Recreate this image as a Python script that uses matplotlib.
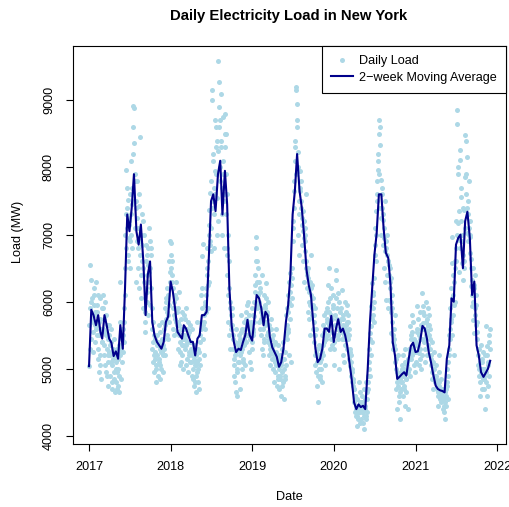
import numpy as np
import pandas as pd
import matplotlib
matplotlib.use('Agg')
import matplotlib.pyplot as plt

plt.rcParams['font.family'] = ['Liberation Sans', 'DejaVu Sans']

# daily load (MW), 21 readings per month
load_2017 = [
    [5040, 5650, 5300, 6550, 5900, 6000, 6320, 5450, 5750, 5800, 6050, 5250, 5550, 5700, 5950, 6200, 6100, 5400, 5650, 5850, 5600],
    [5800, 6300, 5650, 5500, 5950, 5850, 6100, 5300, 5150, 5700, 4950, 5500, 5750, 6050, 5200, 5050, 4850, 5600, 5550, 5400, 5900],
    [5400, 6100, 5600, 5900, 5200, 5350, 5750, 6000, 5050, 5550, 4950, 5800, 5500, 5300, 5650, 4900, 5100, 4750, 5200, 5450, 5250],
    [5500, 5650, 5350, 5200, 4900, 5100, 5400, 5600, 4800, 5050, 4700, 5300, 5250, 5150, 4850, 4950, 5450, 4650, 5200, 5250, 5000],
    [5100, 4800, 4950, 5300, 4700, 5150, 5250, 5000, 4750, 4650, 5350, 4900, 5200, 5700, 6300, 5300, 5550, 4850, 5100, 5600, 5450],
    [5250, 5600, 5500, 5400, 5900, 5700, 6500, 6100, 7000, 7300, 6800, 7960, 7400, 7700, 7100, 6700, 7520, 6600, 7150, 6950, 7250],
    [7200, 6500, 6900, 7600, 7000, 7300, 8100, 7450, 7700, 6800, 8600, 8920, 8200, 8880, 8360, 7500, 7800, 7900, 7100, 6300, 7400],
    [7500, 6900, 7250, 7800, 6500, 6800, 7100, 6200, 7600, 7420, 8450, 6700, 6900, 7000, 6050, 6400, 7300, 6600, 6850, 7200, 5900],
    [6500, 7000, 6300, 5900, 5700, 5850, 5550, 6200, 6600, 6850, 6400, 6150, 6000, 6700, 5800, 6800, 6550, 7100, 6450, 6300, 5950],
    [6900, 6500, 6700, 6800, 6200, 5900, 5600, 5300, 5400, 5700, 5100, 5500, 5200, 4950, 5250, 5150, 5450, 5000, 5050, 4800, 5350],
    [5200, 5500, 5350, 4900, 5400, 5150, 5650, 5100, 5050, 5300, 4850, 5550, 5400, 5250, 5000, 5250, 5700, 5450, 5200, 4950, 5350],
    [5300, 5600, 5450, 5900, 5200, 5650, 6000, 5750, 6050, 6200, 5500, 5850, 5800, 6100, 5450, 5700, 5950, 6600, 6300, 6900, 6450],
]
load_2018 = [
    [6880, 6700, 6500, 6600, 6400, 6300, 6200, 5600, 5900, 6000, 5800, 5500, 5750, 6100, 5900, 6050, 5700, 6300, 5550, 5650, 5850],
    [5700, 5900, 5550, 5300, 6150, 5650, 5500, 5050, 5250, 5400, 5750, 5100, 5500, 5600, 5200, 5350, 5850, 5450, 5450, 5000, 5350],
    [5800, 5500, 5600, 5750, 5300, 5450, 5900, 5050, 5350, 5600, 5400, 5150, 5500, 5700, 4950, 5200, 5550, 5250, 5400, 5650, 5100],
    [5400, 5100, 5300, 5600, 4900, 5200, 5250, 5000, 4850, 4750, 5150, 5350, 5100, 4800, 5050, 4900, 4650, 5200, 5050, 5700, 4950],
    [5100, 4800, 5000, 5300, 4700, 5150, 5250, 5500, 5400, 5050, 6100, 5700, 5600, 5900, 6680, 6200, 6860, 5450, 5650, 5200, 5800],
    [5700, 5600, 5950, 6000, 6200, 6100, 5850, 6400, 6500, 6800, 5900, 6600, 6250, 7150, 6300, 7000, 7370, 6900, 6850, 7620, 6750],
    [7800, 7100, 7400, 9150, 9000, 8100, 8200, 7500, 7700, 6800, 7300, 7600, 7950, 8700, 8600, 8300, 7900, 7000, 7550, 8400, 7200],
    [8250, 9590, 8600, 9270, 8900, 8000, 7800, 8700, 8300, 9100, 8400, 7300, 7700, 7000, 8750, 7900, 8100, 7500, 7600, 6800, 8500],
    [8800, 8300, 8500, 7900, 7300, 7600, 6800, 6400, 6700, 7000, 6100, 5700, 6200, 6600, 5500, 5900, 5300, 6000, 5650, 5800, 5600],
    [5900, 5800, 5650, 5300, 5500, 5450, 5050, 4900, 5150, 5400, 4800, 5200, 5250, 4650, 5600, 4950, 5000, 4600, 5300, 5350, 5100],
    [5500, 5100, 5400, 5300, 4700, 5200, 5450, 5250, 5550, 5800, 5000, 5600, 5300, 5150, 4900, 5100, 5350, 5700, 5450, 5050, 5500],
    [5600, 5850, 5750, 5400, 5950, 5650, 5500, 6000, 5500, 5700, 5250, 5800, 5600, 5100, 5550, 5450, 5000, 5650, 5700, 5300, 5900],
]
load_2019 = [
    [5400, 5550, 5500, 5800, 5600, 5700, 6000, 5780, 6150, 6250, 6400, 6970, 6600, 6800, 6600, 6300, 5900, 6100, 5950, 6500, 5700],
    [6300, 6000, 6150, 5600, 6200, 5750, 5900, 5500, 5850, 5800, 5300, 6400, 5600, 5700, 5200, 5400, 6100, 5450, 5800, 5650, 5950],
    [5900, 6280, 6050, 5700, 5500, 5850, 5800, 5400, 5550, 6000, 5200, 5650, 5450, 5300, 5050, 5350, 5600, 5750, 5250, 5150, 5450],
    [5300, 5500, 5350, 5000, 5200, 5150, 4800, 5400, 5250, 5100, 4950, 5600, 5050, 5250, 4750, 5200, 5050, 5350, 4850, 4900, 5150],
    [5000, 4700, 4900, 5200, 4850, 5050, 5100, 4600, 4750, 5300, 4950, 5400, 5150, 4800, 4550, 5000, 5150, 5250, 4850, 4900, 5050],
    [5500, 5800, 5650, 5450, 5900, 5550, 6100, 5600, 5850, 6300, 5200, 6000, 6150, 6430, 5750, 5950, 6250, 5100, 6350, 6500, 6050],
    [6900, 7200, 7100, 7650, 7400, 7800, 8100, 8400, 8300, 7900, 9200, 9150, 8600, 8950, 8700, 8000, 8230, 7000, 7300, 7500, 6700],
    [7950, 7650, 7700, 7400, 7800, 7500, 7150, 6850, 7250, 7350, 7050, 6600, 6950, 7200, 6300, 6750, 6900, 7000, 7100, 6500, 7600],
    [6600, 6400, 6450, 6200, 5850, 6350, 6500, 6000, 6150, 5750, 6300, 5500, 5950, 6100, 6700, 6200, 5900, 6250, 5800, 5600, 6050],
    [5950, 5700, 5800, 5400, 5900, 5500, 5200, 5050, 5250, 5600, 4950, 5300, 5100, 4750, 5150, 4900, 4500, 5000, 5200, 5350, 4850],
    [5100, 4900, 5150, 5300, 5000, 5250, 5500, 4800, 5350, 5200, 5650, 5400, 5550, 5800, 5050, 5500, 5600, 5850, 5600, 5450, 5700],
    [5600, 5900, 5750, 6250, 5500, 6000, 5850, 6500, 5650, 5300, 5700, 6050, 5800, 5450, 6200, 5550, 5750, 5350, 5900, 5950, 6100],
]
load_2020 = [
    [5300, 5050, 5400, 5500, 5800, 5650, 6330, 6480, 6050, 5600, 5900, 5750, 5440, 6130, 5500, 5700, 5000, 6000, 5600, 5840, 5550],
    [5600, 5900, 5750, 6180, 5440, 5550, 5740, 5200, 5650, 5800, 5500, 5100, 5450, 6000, 5350, 5600, 5650, 5840, 5500, 5300, 5700],
    [5950, 5540, 5800, 5700, 5440, 5500, 5140, 5600, 5250, 5300, 5040, 4900, 5100, 5200, 4800, 4950, 5000, 4750, 4800, 4850, 4700],
    [4700, 4500, 4600, 4350, 4600, 4400, 4300, 4450, 4300, 4150, 4550, 4400, 4450, 4250, 4800, 4350, 4350, 4500, 4500, 4200, 4650],
    [4500, 4250, 4400, 4600, 4350, 4500, 4200, 4450, 4350, 4700, 4300, 4100, 4450, 4550, 4400, 4300, 4800, 4250, 4550, 4650, 4350],
    [4800, 4700, 4900, 5000, 5300, 5100, 4900, 5540, 5450, 5200, 5640, 5940, 5750, 5400, 6280, 6150, 5800, 6100, 5900, 5700, 6000],
    [6350, 6850, 6700, 7100, 7350, 7000, 6600, 7600, 7500, 7800, 8200, 7960, 8100, 8500, 8700, 7900, 8600, 8340, 7400, 7250, 7000],
    [7810, 7600, 7700, 7400, 7220, 7300, 6850, 7100, 6950, 6500, 7500, 6300, 6750, 6900, 6030, 6800, 7000, 6700, 6400, 5900, 6600],
    [6600, 6400, 6550, 6030, 6500, 6300, 6200, 5840, 6000, 6350, 5540, 5700, 5900, 6100, 5300, 5500, 5400, 5600, 5450, 5350, 5800],
    [5290, 5100, 5150, 4700, 5000, 4950, 4800, 4400, 4750, 5200, 4900, 4600, 4850, 4500, 4250, 4650, 4850, 4950, 4800, 4700, 5050],
    [4800, 5000, 4900, 4600, 5200, 4750, 4900, 4700, 5000, 4450, 5100, 5300, 4850, 4850, 4650, 5100, 5050, 4950, 4950, 4400, 5150],
    [5000, 5300, 5150, 4900, 5640, 5250, 5140, 5450, 5500, 5800, 5200, 5550, 5300, 5350, 5700, 5450, 5050, 5400, 5350, 4950, 5250],
]
load_2021 = [
    [5100, 5400, 5250, 5940, 5600, 5550, 5340, 5740, 5350, 5050, 5500, 5240, 5450, 5850, 5300, 5150, 5000, 5650, 5600, 5450, 5200],
    [6130, 5940, 5850, 5690, 5400, 5600, 5800, 5290, 5450, 5590, 5100, 6000, 5700, 5500, 5750, 5550, 5200, 5650, 5650, 5350, 5900],
    [5800, 5500, 5650, 5300, 5600, 5450, 5050, 5200, 5150, 4950, 5400, 4850, 5000, 5100, 4700, 4900, 5000, 5250, 4850, 4800, 4900],
    [5050, 4900, 4850, 4700, 4800, 4750, 4600, 4450, 4650, 4950, 4750, 5200, 4800, 4550, 4650, 4600, 4850, 4500, 4700, 4700, 4600],
    [4650, 4400, 4550, 4550, 4350, 4450, 4700, 4500, 4650, 4250, 4600, 4450, 4700, 4800, 5000, 4750, 4550, 4900, 5100, 5200, 5500],
    [5300, 5600, 5450, 5900, 6200, 5750, 5700, 6580, 6050, 6970, 5500, 6100, 6400, 5800, 6300, 5950, 5200, 6500, 6600, 6000, 6800],
    [7200, 6600, 7000, 8850, 8650, 8000, 7900, 7170, 7350, 6920, 6450, 8260, 6800, 8110, 7560, 7200, 7700, 6580, 6900, 7000, 7400],
    [6330, 6700, 6600, 6500, 7360, 7100, 7860, 8480, 7900, 8400, 7600, 7020, 7400, 8150, 7300, 7500, 6900, 7800, 7000, 7100, 6730],
    [7200, 6970, 7000, 6630, 6230, 6500, 5930, 6330, 6100, 5730, 6000, 6500, 6250, 5530, 6200, 5900, 6400, 5800, 5950, 6100, 5650],
    [5700, 5440, 5550, 5200, 5050, 5300, 4900, 5300, 5000, 4600, 5100, 4800, 4950, 5000, 5350, 5100, 4700, 5150, 4900, 4850, 5250],
    [5000, 4700, 4850, 4900, 5200, 5000, 4400, 4800, 4950, 5640, 5340, 5200, 4600, 5050, 4750, 5100, 5500, 4900, 5400, 5300, 5600],
]

# 2-week moving average, read on the 1st, 11th and 21st of each month
ma_2017 = [5040, 5880, 5800, 5650, 5800, 5550, 5450, 5800, 5650, 5450, 5390, 5190,
           5260, 5150, 5650, 5300, 6200, 7300, 7050, 7400, 7900, 7050, 6850, 7150,
           6600, 5800, 6400, 6600, 5700, 5500, 5400, 5350, 5300, 5400, 5700, 5780]
ma_2018 = [6300, 6150, 5900, 5550, 5500, 5450, 5650, 5600, 5500, 5400, 5400, 5200,
           5450, 5500, 5800, 5800, 5850, 6650, 7500, 7600, 7350, 7900, 8100, 7300,
           7950, 7450, 6200, 5650, 5400, 5250, 5300, 5280, 5400, 5500, 5730, 5500]
ma_2019 = [5420, 5750, 6100, 6050, 5900, 5650, 5850, 5800, 5480, 5320, 5250, 5180,
           5030, 5100, 5300, 5700, 5950, 6400, 7300, 7650, 8200, 7650, 7400, 7000,
           6480, 6250, 6100, 5700, 5300, 5100, 5150, 5300, 5600, 5600, 5550, 5790]
ma_2020 = [5400, 5600, 5740, 5550, 5600, 5500, 5350, 5100, 4850, 4500, 4400, 4470,
           4430, 4450, 4400, 5000, 5700, 6200, 6700, 7020, 7600, 7600, 7100, 6730,
           6650, 6250, 5400, 5200, 4850, 4880, 4920, 4950, 4900, 5140, 5340, 5390]
ma_2021 = [5250, 5260, 5400, 5640, 5600, 5450, 5250, 5100, 4920, 4750, 4700, 4680,
           4670, 4650, 5150, 5350, 6050, 6000, 6850, 6950, 7000, 6500, 7200, 7340,
           6950, 6100, 6300, 5350, 5200, 4950, 4880, 4940, 5000, 5120]

year_ticks = [2017, 2018, 2019, 2020, 2021, 2022]
load_ticks = [4000, 5000, 6000, 7000, 8000, 9000]

# build daily series
rows = load_2017 + load_2018 + load_2019 + load_2020 + load_2021
months = pd.date_range('2017-01-01', periods=len(rows), freq='MS')
dates, loads = [], []
for m, row in zip(months, rows):
    step = m.days_in_month / len(row)
    for i, v in enumerate(row):
        dates.append(m + pd.Timedelta(days=i * step))
        loads.append(v)

ma = ma_2017 + ma_2018 + ma_2019 + ma_2020 + ma_2021
ma_dates = [m + pd.Timedelta(days=d)
            for m in pd.date_range('2017-01-01', '2021-12-01', freq='MS')
            for d in (0, 10, 20)][:len(ma)]

fig = plt.figure(figsize=(5.1, 5.07), dpi=100)
ax = fig.add_axes([73 / 510, 1 - 444 / 507, 433 / 510, 398 / 507])

ax.plot(dates, loads, 'o', ms=3.6, color='lightblue', mec='none', label='Daily Load')
ax.plot(ma_dates, ma, color='darkblue', lw=1.5, label='2\u2212week Moving Average')

# R style 4% padding
t0, t1 = dates[0], pd.Timestamp('2021-11-30')
pad = (t1 - t0) * 0.04
ax.set_xlim(t0 - pad, t1 + pad)
lo, hi = min(loads), max(loads)
ax.set_ylim(lo - 0.04 * (hi - lo), hi + 0.04 * (hi - lo))

ax.set_xticks([pd.Timestamp(f'{y}-01-01') for y in year_ticks])
ax.set_xticklabels([str(y) for y in year_ticks])
ax.set_yticks(load_ticks)
ax.set_yticklabels([str(v) for v in load_ticks], rotation=90, va='center')
ax.tick_params(direction='out', length=5, width=0.8, labelsize=9.1, colors='black')
ax.tick_params(axis='x', pad=7)
ax.tick_params(axis='y', pad=8)
for s in ax.spines.values():
    s.set_linewidth(0.8)
    s.set_color('black')

fig.text(288.5 / 510, 1 - 16 / 507, 'Daily Electricity Load in New York',
         ha='center', va='center', fontsize=10.7, fontweight='bold')
fig.text(289.5 / 510, 1 - 497 / 507, 'Date', ha='center', va='center', fontsize=9.1)
fig.text(18 / 510, 1 - 232 / 507, 'Load (MW)', ha='center', va='center',
         rotation=90, fontsize=9.1)

ax.legend(loc='upper right', borderaxespad=0, fancybox=False, edgecolor='black',
          framealpha=1, fontsize=9.1, handlelength=1.75, handletextpad=0.5,
          borderpad=0.72, labelspacing=0.35, numpoints=1).get_frame().set_linewidth(0.8)

fig.savefig('out.png', dpi=100)
